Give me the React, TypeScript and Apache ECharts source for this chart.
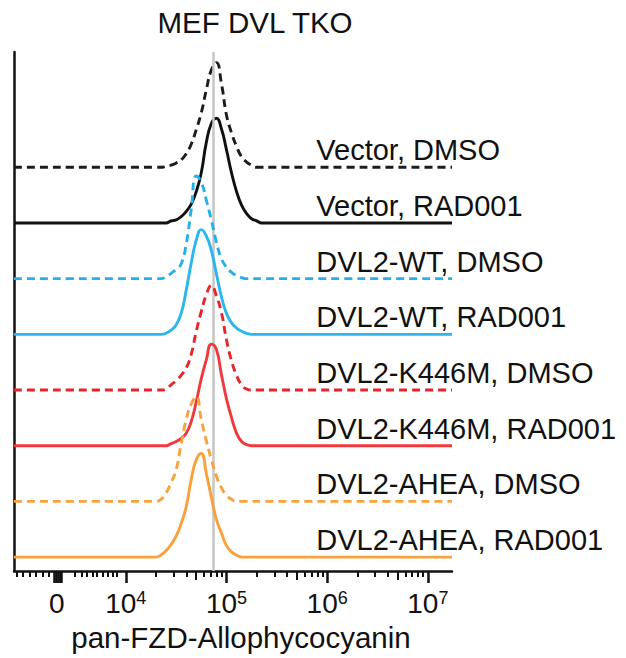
import React, { useEffect, useRef } from 'react';
import * as echarts from 'echarts';

const FONT = "'Liberation Sans', Arial, Helvetica, sans-serif";

const titleText = 'MEF DVL TKO';
const axisTitle = 'pan-FZD-Allophycocyanin';

const sampleNames = [
  'Vector, DMSO',
  'Vector, RAD001',
  'DVL2-WT, DMSO',
  'DVL2-WT, RAD001',
  'DVL2-K446M, DMSO',
  'DVL2-K446M, RAD001',
  'DVL2-AHEA, DMSO',
  'DVL2-AHEA, RAD001',
];
const sampleColors = ['#1c1c1c', '#111111', '#25b0ea', '#2bb7ee', '#e8242b', '#ee3a3d', '#f9a33c', '#f9a13a'];
const sampleDashed = [true, false, true, false, true, false, true, false];

// fluorescence grid (log10 display units) and normalized counts (% of mode)
const logGrid = [4.3, 4.35, 4.4, 4.45, 4.5, 4.55, 4.6, 4.65, 4.7, 4.75, 4.8, 4.85, 4.9, 4.95, 5.0, 5.05, 5.1, 5.15, 5.2, 5.25, 5.3, 5.35];
const vectorDMSO = [0, 0, 1, 2, 4, 7, 13, 22, 36, 52, 74, 93, 100, 80, 50, 33, 20, 10, 5, 2, 0, 0];
const vectorRAD001 = [0, 0, 0, 2, 3, 6, 11, 18, 30, 48, 77, 95, 100, 90, 70, 48, 30, 17, 9, 4, 2, 0];
const wtDMSO = [0, 0, 2, 5, 9, 14, 33, 66, 98, 92, 75, 56, 35, 19, 11, 6, 3, 1, 0, 0, 0, 0];
const wtRAD001 = [0, 0, 1, 4, 9, 20, 42, 68, 90, 100, 94, 80, 58, 36, 20, 11, 6, 3, 1, 0, 0, 0];
const k446mDMSO = [0, 0, 1, 5, 9, 14, 21, 34, 56, 75, 91, 100, 90, 74, 48, 28, 14, 5, 1, 0, 0, 0];
const k446mRAD001 = [0, 0, 0, 2, 4, 7, 12, 23, 42, 64, 82, 97, 92, 68, 45, 27, 12, 4, 1, 0, 0, 0];
const aheaDMSO = [0, 2, 8, 18, 30, 55, 78, 93, 100, 78, 58, 40, 24, 13, 6, 2, 0, 0, 0, 0, 0, 0];
const aheaRAD001 = [0, 2, 6, 12, 20, 32, 48, 74, 93, 99, 80, 57, 36, 23, 11, 5, 2, 0, 0, 0, 0, 0];
const sampleCounts = [vectorDMSO, vectorRAD001, wtDMSO, wtRAD001, k446mDMSO, k446mRAD001, aheaDMSO, aheaRAD001];

// axis
const xMin = 2.89;
const xMax = 7.24;
const zeroPos = 3.315;
const decadeTicks = [4, 5, 6, 7];
const zeroClusterTicks = [3.285, 3.305, 3.325, 3.345, 3.364];
const linearMinorTicks = [2.918, 2.977, 3.047, 3.106, 3.176, 3.235, 3.494, 3.563, 3.613, 3.672, 3.712, 3.772, 3.821, 3.871, 3.911];
const minorMultipliers = [2, 3, 4, 6, 7, 8, 9];
const mediumMultipliers = [5];
const referenceLine = 4.865;

// vertical stacking
const yMax = 9.32;
const firstBase = 7.25;
const peakHeight = 1.88;
const labelPos = 5.887;

export default function App() {
  const ref = useRef<HTMLDivElement>(null);
  useEffect(() => {
    if (!ref.current) return;
    const chart = echarts.init(ref.current, undefined, { renderer: 'svg' });
    const gridBox = { left: 14, right: 174, top: 52, bottom: 87, containLabel: false };

    const minorVals: number[] = [...linearMinorTicks];
    const mediumVals: number[] = [];
    [4, 5, 6].forEach((k) => {
      minorMultipliers.forEach((m) => minorVals.push(k + Math.log10(m)));
      mediumMultipliers.forEach((m) => mediumVals.push(k + Math.log10(m)));
    });

    const series: any[] = sampleNames.map((name, i) => {
      const base = firstBase - i;
      const counts = sampleCounts[i];
      const data: number[][] = [[xMin, base], [4.2, base]];
      logGrid.forEach((x, j) => data.push([x, base + (counts[j] * peakHeight) / 100]));
      data.push([5.45, base]);
      data.push([xMax, base]);
      return {
        name,
        type: 'line',
        xAxisIndex: 0,
        yAxisIndex: 0,
        data,
        smooth: 0.5,
        showSymbol: false,
        symbol: 'none',
        z: 3 + i,
        lineStyle: {
          color: sampleColors[i],
          width: 2.9,
          type: sampleDashed[i] ? [8, 5] : 'solid',
        },
        markPoint: {
          symbol: 'circle',
          symbolSize: 1,
          itemStyle: { color: 'rgba(0,0,0,0)' },
          label: {
            show: true,
            position: 'right',
            distance: 0,
            offset: [0, -17],
            formatter: name,
            color: '#111',
            fontSize: 29,
            fontFamily: FONT,
          },
          data: [{ name, coord: [labelPos, base] }],
        },
      };
    });

    series.unshift({
      type: 'line',
      xAxisIndex: 0,
      yAxisIndex: 0,
      data: [],
      z: 1,
      markLine: {
        silent: true,
        symbol: 'none',
        label: { show: false },
        lineStyle: { color: '#c6c6c6', width: 2.5, type: 'solid' },
        data: [{ xAxis: referenceLine }],
      },
    });

    const tickAxis = (gridIndex: number, vals: number[], len: number, width: number) => ({
      type: 'value',
      gridIndex,
      min: xMin,
      max: xMax,
      position: 'bottom',
      axisLine: { show: false },
      splitLine: { show: false },
      axisLabel: { show: false },
      axisTick: {
        show: true,
        length: len,
        customValues: vals,
        lineStyle: { color: '#111', width },
      },
    });

    chart.setOption({
      animation: false,
      textStyle: { fontFamily: FONT },
      grid: [gridBox, gridBox, gridBox],
      xAxis: [
        {
          type: 'value',
          gridIndex: 0,
          min: xMin,
          max: xMax,
          position: 'bottom',
          axisLine: { show: true, lineStyle: { color: '#111', width: 2.5 } },
          splitLine: { show: false },
          axisTick: {
            show: true,
            length: 12,
            customValues: [...zeroClusterTicks, ...decadeTicks],
            lineStyle: { color: '#111', width: 2.5 },
          },
          axisLabel: {
            show: true,
            customValues: [zeroPos, ...decadeTicks],
            margin: 18,
            formatter: (v: number) =>
              Math.abs(v - zeroPos) < 0.01 ? '{b|0}' : `{b|10}{s|${Math.round(v)}}`,
            rich: {
              b: { fontSize: 28, lineHeight: 28, color: '#111', fontFamily: FONT },
              s: { fontSize: 18, lineHeight: 18, color: '#111', fontFamily: FONT, verticalAlign: 'top' },
            },
          },
        },
        tickAxis(1, minorVals, 6, 2),
        tickAxis(2, mediumVals, 9, 2),
      ],
      yAxis: [
        {
          type: 'value',
          gridIndex: 0,
          min: 0,
          max: yMax,
          axisLine: { show: true, lineStyle: { color: '#111', width: 2.5 } },
          axisTick: { show: false },
          axisLabel: { show: false },
          splitLine: { show: false },
        },
        { type: 'value', gridIndex: 1, min: 0, max: yMax, show: false },
        { type: 'value', gridIndex: 2, min: 0, max: yMax, show: false },
      ],
      graphic: [
        {
          type: 'text',
          x: 255,
          y: 22,
          style: {
            text: titleText,
            fontSize: 29.5,
            fontFamily: FONT,
            fill: '#111',
            align: 'center',
            verticalAlign: 'middle',
          },
        },
        {
          type: 'text',
          x: 241,
          y: 637,
          style: {
            text: axisTitle,
            fontSize: 29.5,
            fontFamily: FONT,
            fill: '#111',
            align: 'center',
            verticalAlign: 'middle',
          },
        },
      ],
      series,
    });
    return () => chart.dispose();
  }, []);
  return (
    <div
      ref={ref}
      style={{ position: 'fixed', left: 0, top: 0, width: 626, height: 658, background: '#fff' }}
    />
  );
}
